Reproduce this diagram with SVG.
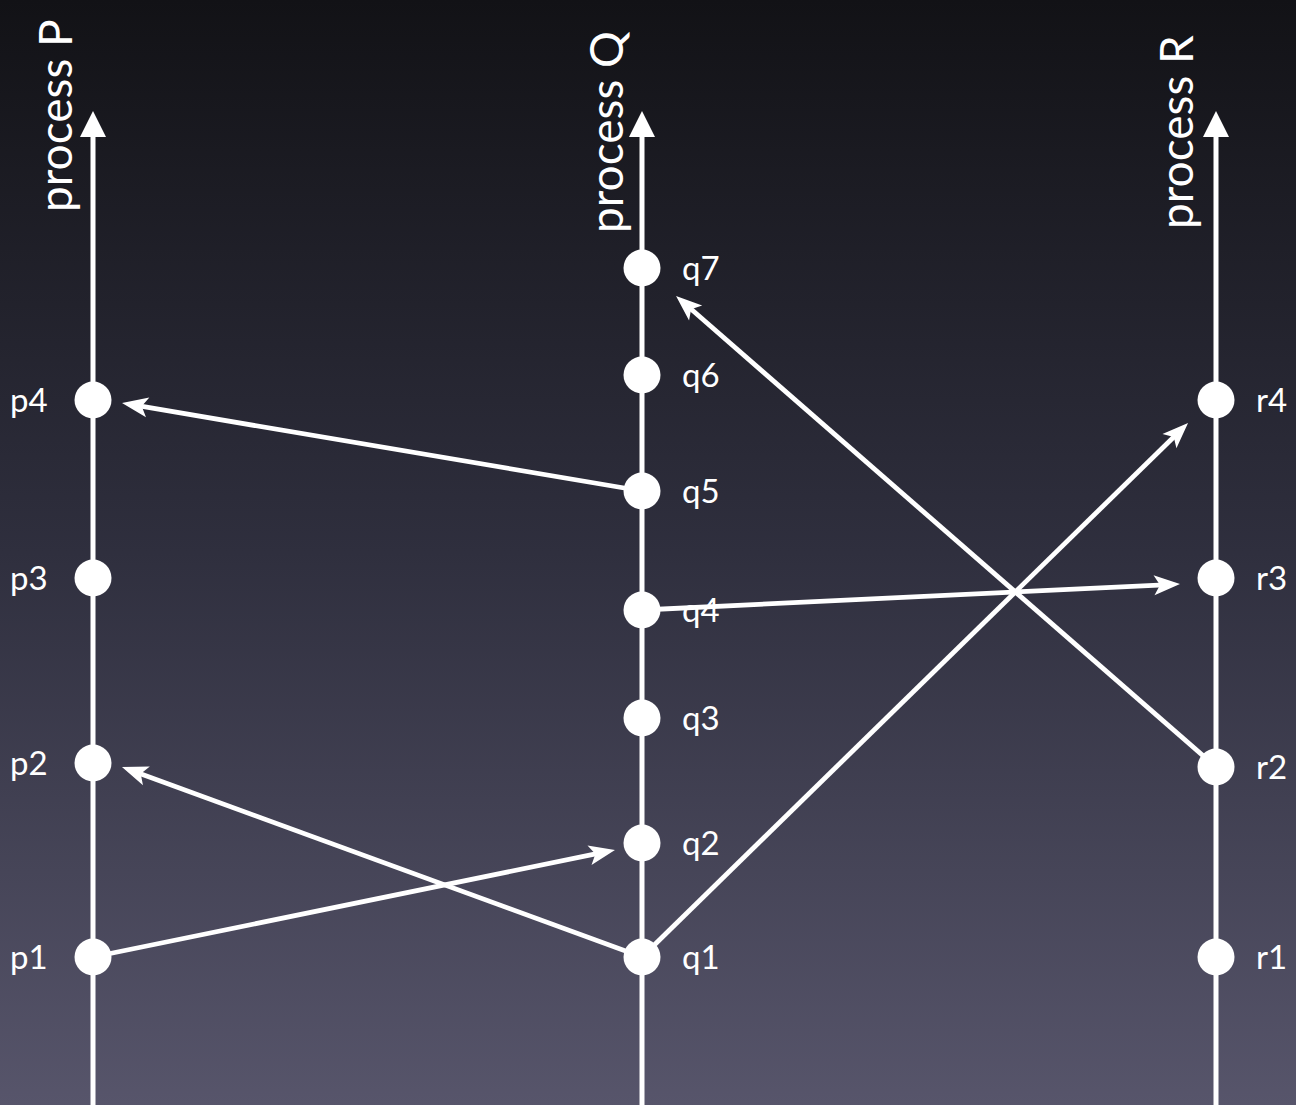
<svg xmlns="http://www.w3.org/2000/svg" width="1296" height="1105" viewBox="0 0 1296 1105">
  <defs>
    <linearGradient id="bg" x1="0" y1="0" x2="0" y2="1">
      <stop offset="0" stop-color="#121216"/>
      <stop offset="0.5" stop-color="#2f2f3e"/>
      <stop offset="1" stop-color="#57556b"/>
    </linearGradient>
    <marker id="ah" markerUnits="userSpaceOnUse" orient="auto" viewBox="-12 -12 32 24" refX="0" refY="0" markerWidth="32" markerHeight="24" overflow="visible">
      <path d="M16,0 L-10,-10 L-4,0 L-10,10 Z" fill="#fff"/>
    </marker>
    <style>
      .life { stroke: #fff; stroke-width: 5; fill: none; }
      .head { fill: #fff; }
      .dot { fill: #fff; }
      .lbl { fill: #fff; font-family: Lato, "Open Sans", sans-serif; font-size: 33px; }
      .ptitle { fill: #fff; font-family: Lato, "Open Sans", sans-serif; font-size: 46px; }
      .msg { stroke: #fff; stroke-width: 4.8; fill: none; marker-end: url(#ah); }
    </style>
  </defs>
  <rect width="1296" height="1105" fill="url(#bg)"/>

  <g id="process-P">
    <line class="life" x1="93" y1="1105" x2="93" y2="132"/>
    <polygon class="head" points="93,111 80,137 106,137"/>
    <text class="ptitle" transform="translate(72,212) rotate(-90)">process P</text>
  </g>
  <g id="process-Q">
    <line class="life" x1="642" y1="1105" x2="642" y2="132"/>
    <polygon class="head" points="642,111 629,137 655,137"/>
    <text class="ptitle" transform="translate(623,233) rotate(-90)">process Q</text>
  </g>
  <g id="process-R">
    <line class="life" x1="1216" y1="1105" x2="1216" y2="132"/>
    <polygon class="head" points="1216,111 1203,137 1229,137"/>
    <text class="ptitle" transform="translate(1193,229) rotate(-90)">process R</text>
  </g>

  <g id="connectors">
    <line class="msg" x1="93" y1="957" x2="599.3" y2="853.2"/>
    <line class="msg" x1="642" y1="957" x2="137.0" y2="772.5"/>
    <line class="msg" x1="642" y1="957" x2="1176.6" y2="434.2"/>
    <line class="msg" x1="642" y1="610" x2="1164.0" y2="584.8"/>
    <line class="msg" x1="642" y1="491" x2="137.8" y2="405.7"/>
    <line class="msg" x1="1216" y1="767" x2="688.1" y2="306.5"/>
  </g>

  <g id="p4"><circle class="dot" cx="93" cy="400" r="18.5"/><text class="lbl" x="10" y="412">p4</text></g>
  <g id="p3"><circle class="dot" cx="93" cy="578" r="18.5"/><text class="lbl" x="10" y="590">p3</text></g>
  <g id="p2"><circle class="dot" cx="93" cy="763" r="18.5"/><text class="lbl" x="10" y="775">p2</text></g>
  <g id="p1"><circle class="dot" cx="93" cy="957" r="18.5"/><text class="lbl" x="10" y="969">p1</text></g>

  <g id="q7"><circle class="dot" cx="642" cy="268" r="18.5"/><text class="lbl" x="682" y="280">q7</text></g>
  <g id="q6"><circle class="dot" cx="642" cy="375" r="18.5"/><text class="lbl" x="682" y="387">q6</text></g>
  <g id="q5"><circle class="dot" cx="642" cy="491" r="18.5"/><text class="lbl" x="682" y="503">q5</text></g>
  <g id="q4"><circle class="dot" cx="642" cy="610" r="18.5"/><text class="lbl" x="682" y="622">q4</text></g>
  <g id="q3"><circle class="dot" cx="642" cy="718" r="18.5"/><text class="lbl" x="682" y="730">q3</text></g>
  <g id="q2"><circle class="dot" cx="642" cy="843" r="18.5"/><text class="lbl" x="682" y="855">q2</text></g>
  <g id="q1"><circle class="dot" cx="642" cy="957" r="18.5"/><text class="lbl" x="682" y="969">q1</text></g>

  <g id="r4"><circle class="dot" cx="1216" cy="400" r="18.5"/><text class="lbl" x="1256" y="412">r4</text></g>
  <g id="r3"><circle class="dot" cx="1216" cy="578" r="18.5"/><text class="lbl" x="1256" y="590">r3</text></g>
  <g id="r2"><circle class="dot" cx="1216" cy="767" r="18.5"/><text class="lbl" x="1256" y="779">r2</text></g>
  <g id="r1"><circle class="dot" cx="1216" cy="957" r="18.5"/><text class="lbl" x="1256" y="969">r1</text></g>
</svg>
